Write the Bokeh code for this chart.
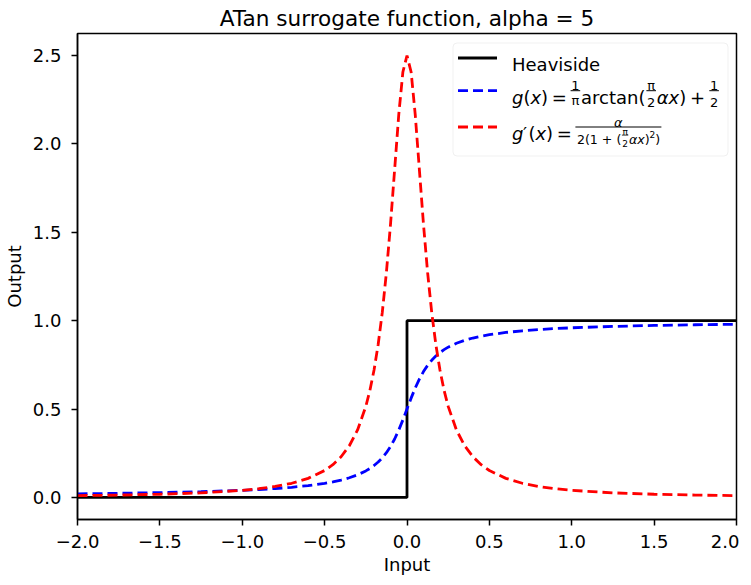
from bokeh.plotting import figure
from bokeh.models import Range1d, FixedTicker, Label, BoxAnnotation, CustomJSTickFormatter
from bokeh.embed import file_html
from bokeh.resources import INLINE

# ---------------- data ----------------
x_values = [-2.0, -1.75, -1.5, -1.25, -1.0, -0.9, -0.8, -0.7, -0.6, -0.5, -0.45, -0.4,
            -0.35, -0.3, -0.25, -0.225, -0.2, -0.175, -0.15, -0.125, -0.1, -0.075, -0.05,
            -0.025, 0.0, 0.025, 0.05, 0.075, 0.1, 0.125, 0.15, 0.175, 0.2, 0.225, 0.25,
            0.3, 0.35, 0.4, 0.45, 0.5, 0.6, 0.7, 0.8, 0.9, 1.0, 1.25, 1.5, 1.75, 2.0]

g_values = [0.0202, 0.0231, 0.0270, 0.0323, 0.0403, 0.0447, 0.0502, 0.0573, 0.0666,
            0.0794, 0.0878, 0.0981, 0.1111, 0.1278, 0.1499, 0.1639, 0.1805, 0.2002,
            0.2240, 0.2529, 0.2881, 0.3306, 0.3809, 0.4383, 0.5000, 0.5617, 0.6191,
            0.6694, 0.7119, 0.7471, 0.7760, 0.7998, 0.8195, 0.8361, 0.8501, 0.8722,
            0.8889, 0.9019, 0.9122, 0.9206, 0.9334, 0.9427, 0.9498, 0.9553, 0.9597,
            0.9677, 0.9730, 0.9769, 0.9798]

dg_values = [0.0101, 0.0132, 0.0179, 0.0257, 0.0399, 0.0491, 0.0618, 0.0801, 0.1077,
             0.1522, 0.1853, 0.2300, 0.2922, 0.3816, 0.5149, 0.6064, 0.7210, 0.8653,
             1.0469, 1.2730, 1.5462, 1.8560, 2.1660, 2.4072, 2.5000, 2.4072, 2.1660,
             1.8560, 1.5462, 1.2730, 1.0469, 0.8653, 0.7210, 0.6064, 0.5149, 0.3816,
             0.2922, 0.2300, 0.1853, 0.1522, 0.1077, 0.0801, 0.0618, 0.0491, 0.0399,
             0.0257, 0.0179, 0.0132, 0.0101]

heaviside_x = [-2.0, 0.0, 0.0, 2.0]
heaviside_y = [0.0, 0.0, 1.0, 1.0]

x_ticks = [-2.0, -1.5, -1.0, -0.5, 0.0, 0.5, 1.0, 1.5, 2.0]
x_tick_labels = ["\u22122.0", "\u22121.5", "\u22121.0", "\u22120.5", "0.0", "0.5", "1.0", "1.5", "2.0"]
y_ticks = [0.0, 0.5, 1.0, 1.5, 2.0, 2.5]
y_tick_labels = ["0.0", "0.5", "1.0", "1.5", "2.0", "2.5"]

title_text = "ATan surrogate function, alpha = 5"
x_label = "Input"
y_label = "Output"

# ---------------- layout ----------------
FONT = "DejaVu Sans"
FW, FH = 659, 486
XMIN, XMAX = min(x_values), max(x_values)
_all_y = g_values + dg_values + heaviside_y
_pad = 0.05 * (max(_all_y) - min(_all_y))
YMIN, YMAX = min(_all_y) - _pad, max(_all_y) + _pad

p = figure(frame_width=FW, frame_height=FH,
           x_range=Range1d(XMIN, XMAX), y_range=Range1d(YMIN, YMAX),
           output_backend="svg", toolbar_location=None,
           min_border_left=73, min_border_right=3, min_border_top=10, min_border_bottom=10,
           background_fill_color="white", border_fill_color="white")

p.title.text = title_text
p.title.text_font = FONT
p.title.text_font_size = "21.6px"
p.title.text_font_style = "normal"
p.title.text_color = "black"
p.title.align = "center"
p.title.standoff = 6

p.grid.visible = False
p.outline_line_color = "black"
p.outline_line_width = 1.5
p.outline_line_alpha = 1.0

for ax in (p.xaxis[0], p.yaxis[0]):
    ax.axis_line_color = "black"
    ax.axis_line_width = 1.5
    ax.major_tick_line_color = "black"
    ax.major_tick_line_width = 1.5
    ax.major_tick_out = 6
    ax.major_tick_in = 0
    ax.minor_tick_out = 0
    ax.minor_tick_in = 0
    ax.major_label_text_font = FONT
    ax.major_label_text_font_size = "18px"
    ax.major_label_text_color = "black"
    ax.axis_label_text_font = FONT
    ax.axis_label_text_font_size = "18px"
    ax.axis_label_text_font_style = "normal"
    ax.axis_label_text_color = "black"

fmt_code = """
const i = tvals.findIndex(t => Math.abs(t - tick) < 1e-9);
return i >= 0 ? tlabels[i] : '';
"""
p.xaxis.ticker = FixedTicker(ticks=x_ticks)
p.xaxis.formatter = CustomJSTickFormatter(args=dict(tvals=x_ticks, tlabels=x_tick_labels), code=fmt_code)
p.yaxis.ticker = FixedTicker(ticks=y_ticks)
p.yaxis.formatter = CustomJSTickFormatter(args=dict(tvals=y_ticks, tlabels=y_tick_labels), code=fmt_code)
p.xaxis.axis_label = x_label
p.yaxis.axis_label = y_label
p.xaxis.major_label_standoff = 9
p.yaxis.major_label_standoff = 10
p.xaxis.axis_label_standoff = 3
p.yaxis.axis_label_standoff = 5

# ---------------- curves ----------------
LW = 2.8
DASH = "10 5"
p.line(heaviside_x, heaviside_y, line_color="black", line_width=LW)
p.line(x_values, g_values, line_color="#0000ff", line_width=LW, line_dash=DASH)
p.line(x_values, dg_values, line_color="#ff0000", line_width=LW, line_dash=DASH)

# ---------------- legend (hand-built, positions in px from frame top-left) ----------------
def dx(px):
    return XMIN + px / FW * (XMAX - XMIN)

def dy(py):
    return YMAX - py / FH * (YMAX - YMIN)

def txt(px, py, s, size="18px", style="normal", align="left"):
    p.add_layout(Label(x=dx(px), y=dy(py), text=s, text_font=FONT, text_font_size=size,
                       text_font_style=style, text_align=align, text_baseline="alphabetic",
                       text_color="black"))

def bar(x0, x1, py, w=1.0):
    p.segment(x0=[dx(x0)], y0=[dy(py)], x1=[dx(x1)], y1=[dy(py)],
              line_color="black", line_width=w, level="overlay")

box = BoxAnnotation(left=dx(375.5), right=dx(650.5), top=dy(9.5), bottom=dy(122.5),
                    fill_color="white", fill_alpha=0.8, line_color="#cccccc",
                    line_width=1, border_radius=4)
p.add_layout(box)

rows_y = [24.5, 57.2, 93.5]
colors = ["black", "#0000ff", "#ff0000"]
dashes = ["solid", DASH, DASH]
for ry_, c, d in zip(rows_y, colors, dashes):
    p.line([dx(380.5), dx(419.5)], [dy(ry_), dy(ry_)], line_color=c, line_width=LW,
           line_dash=d, level="overlay")

S = 434.5
F1 = "13px"
F2 = "9px"
NUM = 5.0   # numerator baseline offset above the fraction bar
# row 1
txt(S, rows_y[0] + 6.5, "Heaviside")
# row 2: g(x) = 1/pi arctan(pi/2 alpha x) + 1/2
a = rows_y[1]
b = a + 6.3
txt(S + 0.0, b, "g", style="italic")
txt(S + 11.4, b, "(")
txt(S + 18.4, b, "x", style="italic")
txt(S + 29.1, b, ")")
txt(S + 39.7, b, "=")
c1 = S + 63.4
txt(c1, a - NUM, "1", size=F1, align="center")
bar(c1 - 4.8, c1 + 4.8, a)
txt(c1, a + 9.5, "\u03c0", size=F1, align="center")
txt(S + 69.0, b, "arctan(")
c2 = S + 139.2
txt(c2, a - NUM, "\u03c0", size=F1, align="center")
bar(c2 - 4.8, c2 + 4.8, a)
txt(c2, a + 11.5, "2", size=F1, align="center")
txt(S + 144.7, b, "\u03b1", style="italic")
txt(S + 156.6, b, "x", style="italic")
txt(S + 167.3, b, ")")
txt(S + 177.9, b, "+")
c3 = S + 202.1
txt(c3, a - NUM, "1", size=F1, align="center")
bar(c3 - 4.8, c3 + 4.8, a)
txt(c3, a + 11.5, "2", size=F1, align="center")
# row 3: g'(x) = alpha / (2(1 + (pi/2 alpha x)^2))
a = rows_y[2]
b = a + 6.3
txt(S + 0.0, b, "g", style="italic")
txt(S + 11.0, b, "\u2032")
txt(S + 16.4, b, "(")
txt(S + 23.4, b, "x", style="italic")
txt(S + 34.1, b, ")")
txt(S + 44.7, b, "=")
F = S + 63.4
bar(F, F + 86.0, a)
txt(F + 43.0, a - NUM, "\u03b1", size=F1, style="italic", align="center")
db = a + 12.5
txt(F + 1.5, db, "2(1 + (", size="12.6px")
ct = F + 49.7
ax_ = db - 4.4
txt(ct, ax_ - 3.0, "\u03c0", size=F2, align="center")
bar(ct - 3.2, ct + 3.2, ax_, w=0.8)
txt(ct, ax_ + 8.0, "2", size=F2, align="center")
txt(F + 53.5, db, "\u03b1", size="12.6px", style="italic")
txt(F + 61.8, db, "x", size="12.6px", style="italic")
txt(F + 69.3, db, ")", size="12.6px")
txt(F + 74.2, db - 5.0, "2", size=F2)
txt(F + 79.9, db, ")", size="12.6px")

open("out.html", "w").write(file_html(p, INLINE))
